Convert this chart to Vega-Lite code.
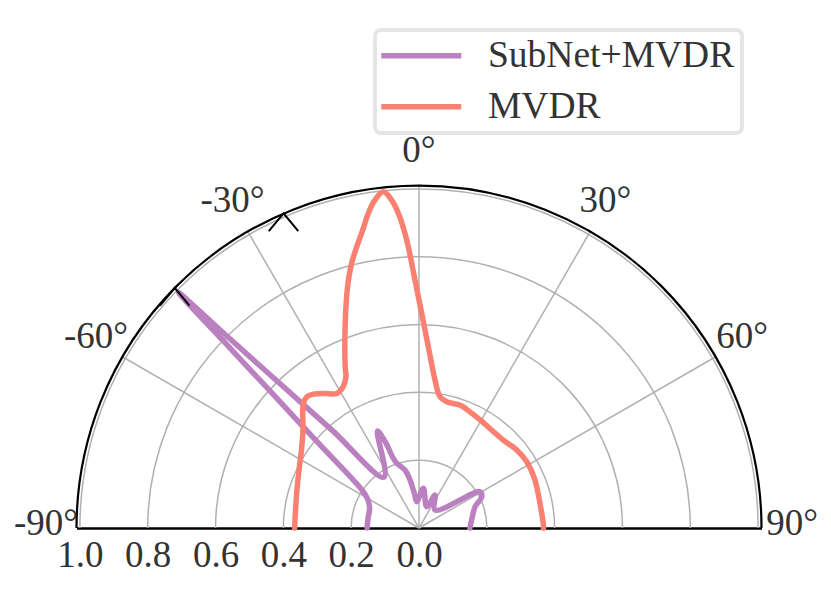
{
  "$schema": "https://vega.github.io/schema/vega-lite/v6.json",
  "width": 685,
  "height": 342.5,
  "autosize": {"type": "none"},
  "padding": {"left": 76.5, "top": 185.5, "right": 69.5, "bottom": 70},
  "background": "white",
  "config": {
    "view": {"stroke": null},
    "font": "Liberation Serif",
    "legend": {"strokeWidth": 4},
    "axisX": {
      "labelExpr": "format(abs(datum.value), '.1f')",
      "title": null,
      "grid": false,
      "ticks": false,
      "domain": true,
      "domainColor": "black",
      "domainWidth": 2.5,
      "labelFont": "Liberation Serif",
      "labelFontSize": 37,
      "labelColor": "#333333",
      "labelPadding": 9,
      "labelFlush": false,
      "labelOverlap": false
    }
  },
  "layer": [
    {
      "data": {"values": [{"r": 0.2}, {"r": 0.4}, {"r": 0.6}, {"r": 0.8}, {"r": 1.0}]},
      "mark": {"type": "arc", "filled": false, "stroke": "#b0b0b0", "strokeWidth": 1.5},
      "encoding": {
        "x": {"datum": 0, "type": "quantitative", "scale": {"domain": [-1.01, 1.01], "nice": false}, "axis": {"title": null, "values": [-1, -0.8, -0.6, -0.4, -0.2, 0]}},
        "y": {"datum": 0, "type": "quantitative", "scale": {"domain": [0, 1.01], "nice": false}, "axis": null},
        "theta": {"datum": -90, "type": "quantitative", "scale": {"type": "linear", "domain": [-90, 90], "range": [-1.5707963, 1.5707963]}},
        "theta2": {"datum": 90},
        "radius": {"field": "r", "type": "quantitative", "scale": {"type": "linear", "domain": [0, 1.01], "range": [0, 342.5]}},
        "radius2": {"field": "r"}
      }
    },
    {
      "data": {"values": [{"angle": -60}, {"angle": -30}, {"angle": 0}, {"angle": 30}, {"angle": 60}]},
      "transform": [
        {"calculate": "1.01 * sin(datum.angle * PI / 180)", "as": "ex"},
        {"calculate": "1.01 * cos(datum.angle * PI / 180)", "as": "ey"}
      ],
      "mark": {"type": "rule", "stroke": "#b0b0b0", "strokeWidth": 1.5},
      "encoding": {
        "x": {"field": "ex", "type": "quantitative", "axis": {"title": null, "values": [-1, -0.8, -0.6, -0.4, -0.2, 0]}},
        "y": {"field": "ey", "type": "quantitative", "axis": null},
        "x2": {"datum": 0},
        "y2": {"datum": 0}
      }
    },
    {
      "data": {"values": [{"r": 1.01}]},
      "mark": {"type": "arc", "filled": false, "stroke": "black", "strokeWidth": 2.2},
      "encoding": {
        "x": {"datum": 0, "type": "quantitative", "axis": {"title": null, "values": [-1, -0.8, -0.6, -0.4, -0.2, 0]}},
        "y": {"datum": 0, "type": "quantitative", "axis": null},
        "theta": {"datum": -90, "type": "quantitative"},
        "theta2": {"datum": 90},
        "radius": {"field": "r", "type": "quantitative"},
        "radius2": {"field": "r"}
      }
    },
    {
      "data": {
        "values": [
          {"method": "SubNet+MVDR", "angle": -90, "gain": 0.153},
          {"method": "SubNet+MVDR", "angle": -78.9, "gain": 0.153},
          {"method": "SubNet+MVDR", "angle": -68.0, "gain": 0.157},
          {"method": "SubNet+MVDR", "angle": -60.6, "gain": 0.174},
          {"method": "SubNet+MVDR", "angle": -56.3, "gain": 0.202},
          {"method": "SubNet+MVDR", "angle": -49.7, "gain": 0.398},
          {"method": "SubNet+MVDR", "angle": -47.4, "gain": 0.597},
          {"method": "SubNet+MVDR", "angle": -46.3, "gain": 0.795},
          {"method": "SubNet+MVDR", "angle": -45.6, "gain": 0.994},
          {"method": "SubNet+MVDR", "angle": -45.0, "gain": 0.791},
          {"method": "SubNet+MVDR", "angle": -43.9, "gain": 0.587},
          {"method": "SubNet+MVDR", "angle": -41.6, "gain": 0.384},
          {"method": "SubNet+MVDR", "angle": -34.5, "gain": 0.182},
          {"method": "SubNet+MVDR", "angle": -23.2, "gain": 0.311},
          {"method": "SubNet+MVDR", "angle": -21.2, "gain": 0.267},
          {"method": "SubNet+MVDR", "angle": -20.5, "gain": 0.225},
          {"method": "SubNet+MVDR", "angle": -19.0, "gain": 0.202},
          {"method": "SubNet+MVDR", "angle": -13.6, "gain": 0.176},
          {"method": "SubNet+MVDR", "angle": -10.6, "gain": 0.144},
          {"method": "SubNet+MVDR", "angle": -7.5, "gain": 0.101},
          {"method": "SubNet+MVDR", "angle": -5.0, "gain": 0.078},
          {"method": "SubNet+MVDR", "angle": 6.2, "gain": 0.118},
          {"method": "SubNet+MVDR", "angle": 19.9, "gain": 0.067},
          {"method": "SubNet+MVDR", "angle": 25.9, "gain": 0.108},
          {"method": "SubNet+MVDR", "angle": 41.6, "gain": 0.071},
          {"method": "SubNet+MVDR", "angle": 59.2, "gain": 0.209},
          {"method": "SubNet+MVDR", "angle": 63.5, "gain": 0.207},
          {"method": "SubNet+MVDR", "angle": 69.2, "gain": 0.177},
          {"method": "SubNet+MVDR", "angle": 81.4, "gain": 0.157},
          {"method": "SubNet+MVDR", "angle": 90, "gain": 0.150},
          {"method": "MVDR", "angle": -90, "gain": 0.367},
          {"method": "MVDR", "angle": -81.7, "gain": 0.368},
          {"method": "MVDR", "angle": -72.7, "gain": 0.377},
          {"method": "MVDR", "angle": -64.2, "gain": 0.393},
          {"method": "MVDR", "angle": -56.4, "gain": 0.416},
          {"method": "MVDR", "angle": -49.8, "gain": 0.448},
          {"method": "MVDR", "angle": -42.9, "gain": 0.501},
          {"method": "MVDR", "angle": -40.5, "gain": 0.509},
          {"method": "MVDR", "angle": -38.3, "gain": 0.503},
          {"method": "MVDR", "angle": -34.9, "gain": 0.484},
          {"method": "MVDR", "angle": -31.4, "gain": 0.465},
          {"method": "MVDR", "angle": -28.2, "gain": 0.473},
          {"method": "MVDR", "angle": -25.8, "gain": 0.495},
          {"method": "MVDR", "angle": -24.6, "gain": 0.523},
          {"method": "MVDR", "angle": -20.5, "gain": 0.623},
          {"method": "MVDR", "angle": -17.4, "gain": 0.714},
          {"method": "MVDR", "angle": -15.9, "gain": 0.760},
          {"method": "MVDR", "angle": -14.3, "gain": 0.805},
          {"method": "MVDR", "angle": -12.5, "gain": 0.849},
          {"method": "MVDR", "angle": -10.7, "gain": 0.894},
          {"method": "MVDR", "angle": -9.15, "gain": 0.940},
          {"method": "MVDR", "angle": -7.64, "gain": 0.976},
          {"method": "MVDR", "angle": -6.06, "gain": 0.997},
          {"method": "MVDR", "angle": -4.76, "gain": 0.970},
          {"method": "MVDR", "angle": -3.76, "gain": 0.930},
          {"method": "MVDR", "angle": -2.88, "gain": 0.880},
          {"method": "MVDR", "angle": -2.18, "gain": 0.830},
          {"method": "MVDR", "angle": -0.92, "gain": 0.731},
          {"method": "MVDR", "angle": 0.72, "gain": 0.633},
          {"method": "MVDR", "angle": 2.94, "gain": 0.535},
          {"method": "MVDR", "angle": 6.17, "gain": 0.439},
          {"method": "MVDR", "angle": 9.09, "gain": 0.392},
          {"method": "MVDR", "angle": 12.4, "gain": 0.381},
          {"method": "MVDR", "angle": 18.4, "gain": 0.382},
          {"method": "MVDR", "angle": 23.7, "gain": 0.374},
          {"method": "MVDR", "angle": 29.5, "gain": 0.366},
          {"method": "MVDR", "angle": 43.8, "gain": 0.359},
          {"method": "MVDR", "angle": 51.4, "gain": 0.369},
          {"method": "MVDR", "angle": 58.4, "gain": 0.373},
          {"method": "MVDR", "angle": 67.5, "gain": 0.370},
          {"method": "MVDR", "angle": 78.5, "gain": 0.364},
          {"method": "MVDR", "angle": 88.6, "gain": 0.367},
          {"method": "MVDR", "angle": 90, "gain": 0.367}
        ]
      },
      "transform": [
        {"calculate": "datum.gain * sin(datum.angle * PI / 180)", "as": "px"},
        {"calculate": "datum.gain * cos(datum.angle * PI / 180)", "as": "py"}
      ],
      "mark": {"type": "line", "strokeWidth": 5.5, "interpolate": "catmull-rom", "strokeCap": "round", "strokeJoin": "round"},
      "encoding": {
        "x": {"field": "px", "type": "quantitative", "axis": {"title": null, "values": [-1, -0.8, -0.6, -0.4, -0.2, 0]}},
        "y": {"field": "py", "type": "quantitative", "axis": null},
        "order": {"field": "angle", "type": "quantitative"},
        "color": {
          "field": "method",
          "type": "nominal",
          "scale": {"domain": ["SubNet+MVDR", "MVDR"], "range": ["#bb80c0", "#fa8072"]},
          "legend": {
            "orient": "none",
            "legendX": 298.5,
            "legendY": -155.5,
            "title": null,
            "symbolType": "M-10,0H10",
            "symbolSize": 64,
            "symbolStrokeWidth": 5.5,
            "symbolOffset": 20.5,
            "labelOffset": 48,
            "padding": 7,
            "rowPadding": 12,
            "labelFont": "Liberation Serif",
            "labelFontSize": 37.5,
            "labelColor": "#333333",
            "labelLimit": 0,
            "strokeColor": "#e5e5e5",
            "cornerRadius": 6,
            "fillColor": "white"
          }
        }
      }
    },
    {
      "data": {"values": [{"angle": -23.3}, {"angle": -45.5}]},
      "transform": [
        {"calculate": "1.01 * sin(datum.angle * PI / 180)", "as": "mx"},
        {"calculate": "1.01 * cos(datum.angle * PI / 180)", "as": "my"}
      ],
      "mark": {"type": "point", "shape": "M-0.64,0.77L0,0L0.64,0.77", "filled": false, "stroke": "black", "strokeWidth": 2, "size": 2116, "opacity": 1},
      "encoding": {
        "x": {"field": "mx", "type": "quantitative", "axis": {"title": null, "values": [-1, -0.8, -0.6, -0.4, -0.2, 0]}},
        "y": {"field": "my", "type": "quantitative", "axis": null}
      }
    },
    {
      "data": {
        "values": [
          {"angle": -90, "label": "-90°"},
          {"angle": -60, "label": "-60°"},
          {"angle": -30, "label": "-30°"},
          {"angle": 0, "label": "0°"},
          {"angle": 30, "label": "30°"},
          {"angle": 60, "label": "60°"},
          {"angle": 90, "label": "90°"}
        ]
      },
      "transform": [
        {"calculate": "1.1 * sin(datum.angle * PI / 180)", "as": "lx"},
        {"calculate": "1.1 * cos(datum.angle * PI / 180)", "as": "ly"}
      ],
      "mark": {"type": "text", "font": "Liberation Serif", "fontSize": 37, "fill": "#333333", "align": "center", "baseline": "middle", "dy": -4},
      "encoding": {
        "x": {"field": "lx", "type": "quantitative", "axis": {"title": null, "values": [-1, -0.8, -0.6, -0.4, -0.2, 0]}},
        "y": {"field": "ly", "type": "quantitative", "axis": null},
        "text": {"field": "label"}
      }
    }
  ]
}
